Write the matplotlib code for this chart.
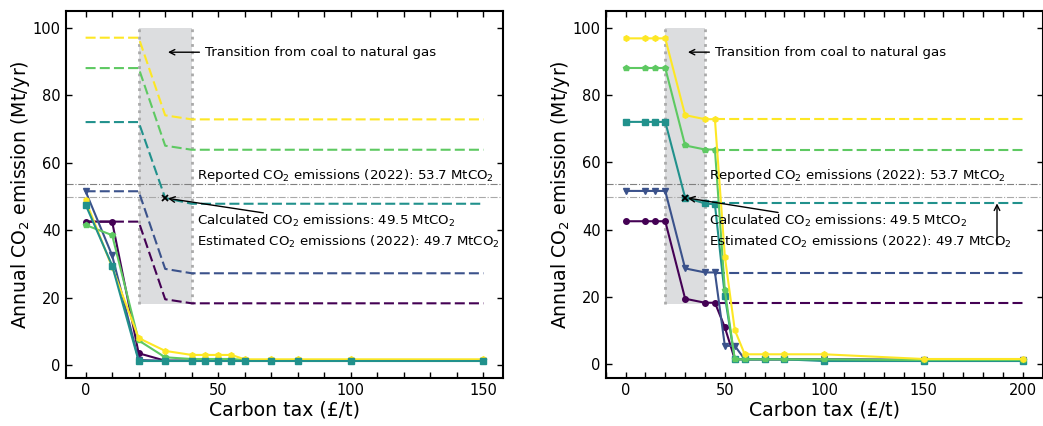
import matplotlib
matplotlib.use("Agg")
import matplotlib.pyplot as plt # For plotting
from matplotlib.ticker import MultipleLocator

# Scenario colours (viridis, 5 levels)
COLORS = ["#440154", "#3b528b", "#21918c", "#5ec962", "#fde725"]
MARKERS = ["o", "v", "s", "p", "h"]

# Left panel: solid lines (carbon tax vs emissions)
left_tax = [0, 10, 20, 30, 40, 45, 50, 55, 60, 70, 80, 100, 150]
left_solid = [
    [42.5, 42.5, 3.5, 1.3, 1.3, 1.3, 1.3, 1.3, 1.3, 1.3, 1.3, 1.3, 1.3],
    [51.5, 32.5, 1.5, 1.3, 1.3, 1.3, 1.3, 1.3, 1.3, 1.3, 1.3, 1.3, 1.3],
    [47.5, 29.5, 1.2, 1.2, 1.2, 1.2, 1.2, 1.2, 1.2, 1.2, 1.2, 1.2, 1.2],
    [41.5, 38.5, 7.3, 2.3, 1.8, 1.8, 1.8, 1.8, 1.5, 1.5, 1.5, 1.5, 1.5],
    [48.8, 29.0, 8.0, 4.2, 3.0, 3.0, 3.0, 3.0, 1.7, 1.7, 1.7, 1.7, 1.7],
]
# Left panel: dashed lines
left_dash_tax = [0, 20, 30, 40, 150]
left_dash = [
    [42.5, 42.5, 19.5, 18.3, 18.3],
    [51.5, 51.5, 28.5, 27.2, 27.2],
    [72.0, 72.0, 49.5, 47.8, 47.8],
    [88.0, 88.0, 65.0, 63.8, 63.8],
    [97.0, 97.0, 74.0, 72.8, 72.8],
]

# Right panel: solid lines
right_tax = [0, 10, 15, 20, 30, 40, 45, 50, 55, 60, 70, 80, 100, 150, 200]
right_solid = [
    [42.5, 42.5, 42.5, 42.5, 19.5, 18.3, 18.3, 11.0, 1.5, 1.5, 1.5, 1.5, 1.5, 1.3, 1.3],
    [51.5, 51.5, 51.5, 51.5, 28.5, 27.3, 27.3, 5.5, 5.5, 1.5, 1.5, 1.5, 1.5, 1.3, 1.3],
    [72.0, 72.0, 72.0, 72.0, 49.5, 47.8, 47.5, 20.3, 1.5, 1.5, 1.5, 1.5, 1.0, 1.0, 1.0],
    [88.0, 88.0, 88.0, 88.0, 65.0, 63.8, 63.8, 22.0, 1.5, 1.5, 1.5, 1.5, 1.5, 1.3, 1.3],
    [96.8, 96.8, 96.8, 96.8, 74.0, 72.8, 72.8, 32.0, 10.2, 3.0, 3.0, 3.0, 3.0, 1.6, 1.6],
]
# Right panel: dashed lines
right_dash_tax = [45, 200]
right_dash = [
    [18.3, 18.3],
    [27.2, 27.2],
    [47.8, 47.8],
    [63.8, 63.8],
    [72.8, 72.8],
]

REPORTED = 53.7 # Reported emissions (2022)
ESTIMATED = 49.7 # Estimated emissions (2022)
CALC_TAX, CALC_VAL = 30, 49.5 # Calculated point

DASHES = (4.8, 2.0) # Dash pattern for the dashed lines

fig = plt.figure(figsize=(10.43, 4.26), dpi=100) # Create figure
ax_l = fig.add_axes([0.063, 0.1134, 0.4196, 0.861])
ax_r = fig.add_axes([0.5807, 0.1134, 0.419, 0.861])


def decorate(ax, calc_start, est_arrow):
    # Shaded transition band with dotted edges
    ax.fill_between([20, 40], 18, 100, color="#dcdddf", lw=0, zorder=0)
    ax.vlines([20, 40], 18, 100, colors="#aaaaaa", linestyles=":", lw=2, zorder=0.5)
    ax.axhline(REPORTED, color="gray", ls="-.", lw=0.8, zorder=1)
    ax.axhline(ESTIMATED, color="darkgray", ls="-.", lw=0.8, zorder=1)
    ax.plot(CALC_TAX, CALC_VAL, "x", color="black", ms=5, mew=1.3, zorder=6)
    ax.annotate("Transition from coal to natural gas", xy=(30, 92.7), xytext=(45, 92.7),
                va="center", fontsize=9.6,
                arrowprops=dict(arrowstyle="->", color="black", lw=1))
    ax.text(42, 56.2, "Reported CO$_2$ emissions (2022): 53.7 MtCO$_2$", va="center", fontsize=9.6)
    ax.text(42, 42.6, "Calculated CO$_2$ emissions: 49.5 MtCO$_2$", va="center", fontsize=9.6)
    ax.text(42, 36.5, "Estimated CO$_2$ emissions (2022): 49.7 MtCO$_2$", va="center", fontsize=9.6)
    ax.annotate("", xy=(CALC_TAX, CALC_VAL), xytext=calc_start,
                arrowprops=dict(arrowstyle="->", color="black", lw=1, shrinkA=0))
    if est_arrow: # Vertical arrow for estimated value
        ax.annotate("", xy=(187, 47.8), xytext=(187, 35.5),
                    arrowprops=dict(arrowstyle="->", color="black", lw=1, shrinkA=0, shrinkB=0))
    ax.set_xlabel("Carbon tax (£/t)", fontsize=13.6, labelpad=2)
    ax.set_ylabel("Annual CO$_2$ emission (Mt/yr)", fontsize=13.6, labelpad=0.5)
    ax.xaxis.set_major_locator(MultipleLocator(50))
    ax.xaxis.set_minor_locator(MultipleLocator(10))
    ax.yaxis.set_major_locator(MultipleLocator(20))
    ax.tick_params(which="both", direction="in", top=True, right=True, length=4, width=1,
                   labelsize=10.5)
    for s in ax.spines.values():
        s.set_linewidth(1.5)


# Left panel
for i in range(5):
    ax_l.plot(left_dash_tax, left_dash[i], "--", dashes=DASHES, color=COLORS[i], lw=1.5, zorder=2)
for i in [0, 1, 3, 4, 2]:
    ax_l.plot(left_tax, left_solid[i], "-", color=COLORS[i], marker=MARKERS[i], ms=4, lw=1.5, zorder=3)
decorate(ax_l, (67, 45.1), False)

# Right panel
for i in range(5):
    ax_r.plot(right_dash_tax, right_dash[i], "--", dashes=DASHES, color=COLORS[i], lw=1.5, zorder=2)
for i in range(5):
    ax_r.plot(right_tax, right_solid[i], "-", color=COLORS[i], marker=MARKERS[i], ms=4, lw=1.5, zorder=3)
decorate(ax_r, (76.8, 45.1), True)

fig.savefig("out.png", dpi=100) # Save figure
